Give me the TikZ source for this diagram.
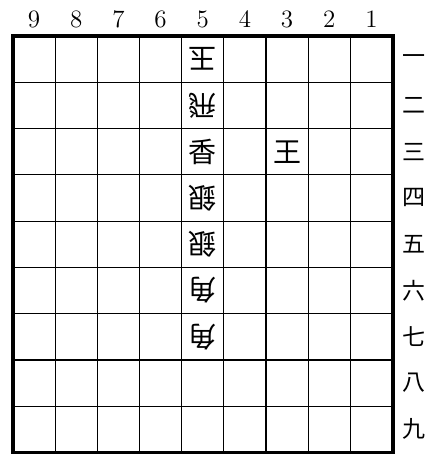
\documentclass[tikz,border=0pt]{standalone}
\usepackage{fontspec}
\newfontfamily\jpfont{Noto Sans CJK JP}

\begin{document}
\begin{tikzpicture}[
  x=0.5pt, y=-0.5pt,
  koma/.style={font=\jpfont\fontsize{14}{14}\selectfont, inner sep=0pt},
  gote/.style={koma, rotate=180},
  suji/.style={font=\fontsize{12.5}{12.5}\selectfont, inner sep=0pt},
  dan/.style={font=\jpfont\fontsize{11.5}{11.5}\selectfont, inner sep=0pt},
  waku/.style={line width=2pt},
  sen/.style={line width=0.6pt},
]
\useasboundingbox (0,0) rectangle (435,454);

% ---- Masu (centres of the squares) ----------------------------------------
\foreach \c in {1,...,9}
  \foreach \r in {1,...,9}
    \coordinate (m\c\r) at ({392.5-(\c-0.5)*42.17},{36+(\r-0.5)*46.28});
\coordinate (nw) at (13,36);
\coordinate (se) at (392.5,452.5);

% ---- Ban ---------------------------------------------------------------------
\foreach \i in {1,...,8} {
  \draw[sen] ({13+\i*42.17},36) -- ({13+\i*42.17},452.5);
  \draw[sen] (13,{36+\i*46.28}) -- (392.5,{36+\i*46.28});
}
\draw[waku] (nw) rectangle (se);

% ---- Suji / dan -----------------------------------------------------------
\foreach \c in {1,...,9}
  \node[suji] (s\c) at ({392.5-(\c-0.5)*42.17},19.5) {\c};
\foreach \r/\k in {1/一,2/二,3/三,4/四,5/五,6/六,7/七,8/八,9/九}
  \node[dan] (d\r) at (414,{36+(\r-0.5)*46.28}) {\k};

% ---- Koma -----------------------------------------------------------------
\node[gote] (k51) at (m51) {玉};
\node[gote] (k52) at (m52) {飛};
\node[koma] (k53) at (m53) {香};
\node[gote] (k54) at (m54) {銀};
\node[gote] (k55) at (m55) {銀};
\node[gote] (k56) at (m56) {角};
\node[gote] (k57) at (m57) {角};
\node[koma] (k33) at (m33) {王};

\end{tikzpicture}
\end{document}
